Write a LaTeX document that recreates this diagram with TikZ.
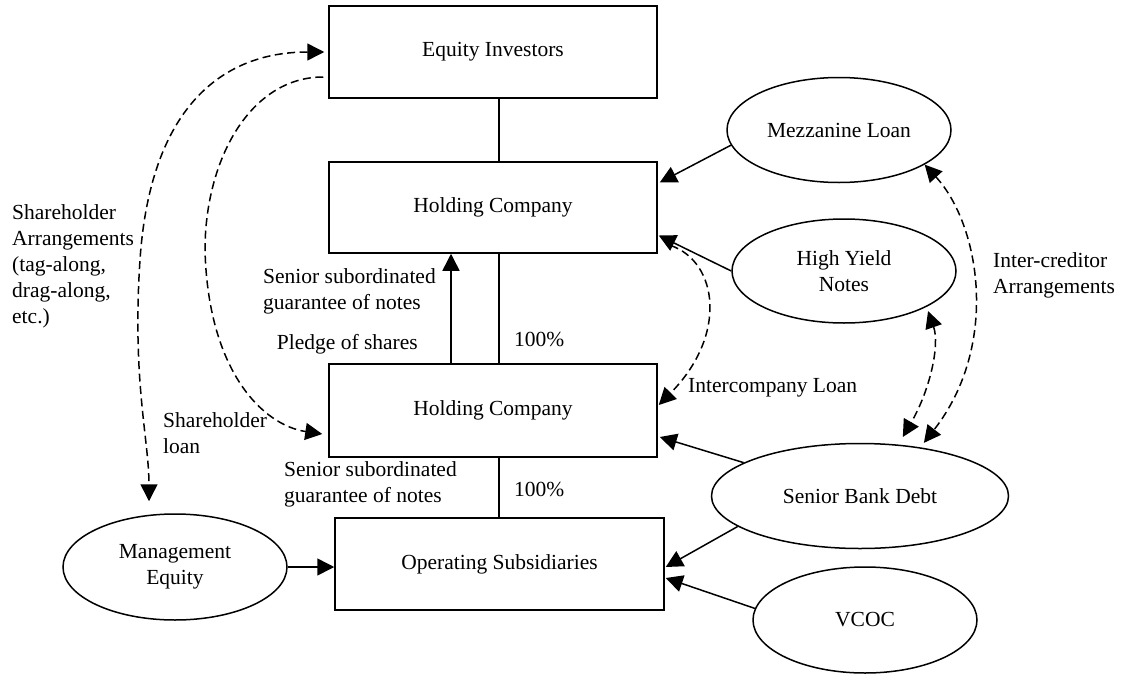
\documentclass[tikz,border=0pt]{standalone}
\usepackage{fontspec}
\setmainfont{Liberation Serif}
\usetikzlibrary{arrows.meta,shapes.geometric}
\begin{document}
\begin{tikzpicture}[x=1pt,y=-1pt,
  every node/.style={font=\fontsize{21.5}{26}\selectfont, inner sep=0pt},
  box/.style={draw,line width=1.5pt,minimum width=328pt,minimum height=92pt},
  oval/.style={draw,ellipse,line width=1.5pt,align=center,minimum width=224pt,minimum height=105pt},
  lbl/.style={align=left},
  conn/.style={line width=1.5pt},
  arr/.style={conn,-{Triangle[length=17pt,width=17pt]}},
  darr/.style={conn,dash pattern=on 8pt off 4.5pt,-{Triangle[length=17pt,width=17pt]}},
  ddarr/.style={conn,dash pattern=on 8pt off 4.5pt,{Triangle[length=17pt,width=17pt]}-{Triangle[length=17pt,width=17pt]}}]
\useasboundingbox (0,0) rectangle (1125,675);

% boxes
\node[box] (ei) at (493,52) {Equity Investors};
\node[box,minimum height=91pt] (hc1) at (493,207.5) {Holding Company};
\node[box,minimum height=93pt] (hc2) at (493,410.5) {Holding Company};
\node[box,minimum width=329pt] (ops) at (499.5,564) {Operating Subsidiaries};

% ellipses
\node[oval] (mezz) at (839,130) {Mezzanine Loan};
\node[oval,minimum height=104pt] (hyn) at (844,271) {High Yield\\Notes};
\node[oval,minimum width=297pt] (sbd) at (860,496) {Senior Bank Debt};
\node[oval,minimum height=106pt] (vcoc) at (865,620) {VCOC};
\node[oval,minimum height=106pt] (me) at (175,567) {Management\\Equity};

% labels
\node[lbl,anchor=north west] (lsa) at (12,204) {Shareholder\\Arrangements\\(tag-along,\\drag-along,\\etc.)};
\node[lbl,anchor=north west] (lsl) at (163,412) {Shareholder\\loan};
\node[lbl,anchor=north west] (lsg1) at (263,268) {Senior subordinated\\guarantee of notes};
\node[anchor=east] (lps) at (418,344) {Pledge of shares};
\node[anchor=west] (lp1) at (514,339) {100\%};
\node[lbl,anchor=north west] (lsg2) at (284,461) {Senior subordinated\\guarantee of notes};
\node[anchor=west] (lp2) at (514,489) {100\%};
\node[anchor=west] (lil) at (688,388) {Intercompany Loan};
\node[lbl,anchor=north west] (lic) at (993,252) {Inter-creditor\\Arrangements};

% solid connectors
\draw[conn] ([xshift=6pt]ei.south) -- ([xshift=6pt]hc1.north);
\draw[conn] ([xshift=6pt]hc2.north) -- ([xshift=6pt]hc1.south);
\draw[arr] ([xshift=-42pt]hc2.north) -- ([xshift=-42pt]hc1.south);
\draw[conn] ([xshift=6pt]hc2.south) -- ([xshift=6pt]hc2.south |- ops.north);
\draw[arr] (mezz.188) -- ([xshift=2pt,yshift=25pt]hc1.east);
\draw[arr] (hyn.west) -- ([xshift=1pt,yshift=-28pt]hc1.east);
\draw[arr] (sbd.164) -- ([xshift=2pt,yshift=-26.5pt]hc2.east);
\draw[arr] (sbd.194) -- ([xshift=1pt,yshift=-3pt]ops.east);
\draw[arr] (vcoc.174) -- ([xshift=1pt,yshift=-14pt]ops.east);
\draw[arr] (me.east) -- (me.east -| ops.west);

% dashed connectors
\draw[ddarr] ([xshift=-4pt]ei.west) .. controls (220,52) and (150,110) .. (140,260)
  .. controls (132,380) and (149,440) .. ([xshift=-26pt,yshift=12pt]me.north);
\draw[darr] ([xshift=-5pt,yshift=-25pt]ei.west) .. controls (250,77) and (205,160) .. (205,250)
  .. controls (208,370) and (262,425) .. ([xshift=-6pt,yshift=-23.5pt]hc2.west);
\draw[darr] ([xshift=13pt,yshift=-38pt]hc1.east) .. controls (718,262) and (728,335) .. ([xshift=1pt,yshift=5.5pt]hc2.east);
\draw[ddarr] ([xshift=6pt,yshift=-2pt]hyn.-26) .. controls (940,345) and (930,390) .. ([yshift=8pt]sbd.50);
\draw[ddarr] (mezz.-22) .. controls (980,225) and (1000,345) .. ([yshift=5pt]sbd.37);
\end{tikzpicture}
\end{document}
